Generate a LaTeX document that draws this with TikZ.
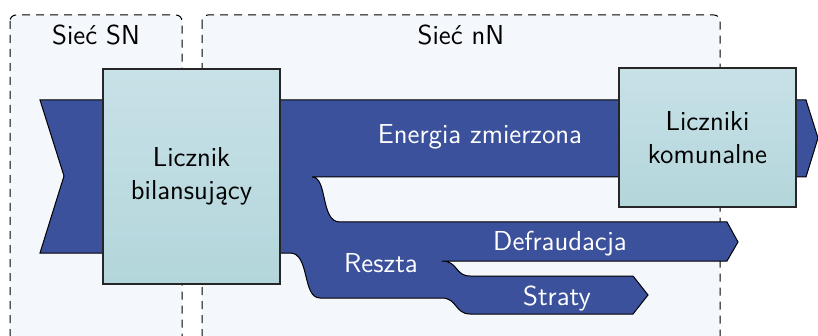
\documentclass[tikz,border=0pt]{standalone}
\usepackage{fontspec}
\usetikzlibrary{positioning}

\definecolor{flowblue}{HTML}{3B519B}
\definecolor{zonefill}{HTML}{F4F7FC}
\definecolor{metertop}{HTML}{C7E1E7}
\definecolor{meterbot}{HTML}{B3D6DB}

\begin{document}
\begin{tikzpicture}[x=0.5pt,y=-0.5pt,every node/.append style={align=center,font=\sffamily\fontsize{13.7}{16.5}\selectfont},
    zone/.style={draw=black, dash pattern=on 4pt off 3pt, fill=zonefill, rounded corners=3pt, line width=0.5pt},
    flow/.style={fill=flowblue, draw=black, line width=0.5pt},
    meter/.style={draw=black!85, line width=0.6pt, top color=metertop, bottom color=meterbot, inner sep=0pt, minimum width=88.5pt},
    lbl/.style={text=white}]
    \clip (0,0) rectangle (818,336);

    % strefy sieci
    \path[zone] (10,15) rectangle (182,350);
    \path[zone] (202,15) rectangle (720,350);
    \node (SN) at (96,35) {Sieć SN};
    \node (nN) at (461,35) {Sieć nN};

    % strumien energii
    \path[flow] (40,100) -- (806,100) -- (818,138) -- (806,177) -- (312,177)
        .. controls (328,177) and (320,222) .. (340,222) -- (727,222) -- (738,242) -- (727,261) -- (442,261)
        .. controls (458,261) and (455,276) .. (470,276) -- (633,276) -- (648,295) -- (633,314) -- (470,314)
        .. controls (455,314) and (457,298) .. (442,298) -- (320,298)
        .. controls (302,298) and (310,253) .. (290,253) -- (40,253) -- (64,176) -- cycle;

    \node [lbl] (E) at (480,137) {Energia zmierzona};
    \node [lbl] (R) at (381,263) {Reszta};
    \node [lbl] (D) at (560,244) {Defraudacja};
    \node [lbl] (S) at (557,298) {Straty};

    % liczniki
    \node [meter, minimum height=107.5pt] (B) at (191.5,176.5) {Licznik\\bilansujący};
    \node [meter, minimum height=69.5pt] (K) at (707.5,137.5) {Liczniki\\komunalne};
\end{tikzpicture}
\end{document}
